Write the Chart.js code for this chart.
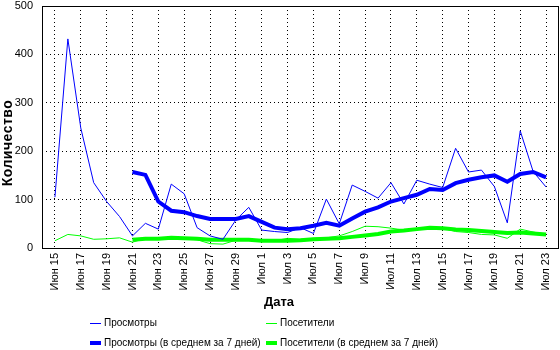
<!DOCTYPE html>
<html>
<head>
    <title>Просмотры и посетители</title>
    <script src="https://cdn.jsdelivr.net/npm/chart.js"></script>
    <style>
        body {
            margin: 0;
            background-color: #ffffff;
            font-family: "Liberation Sans", Arial, sans-serif;
        }

        .wrap {
            position: relative;
            width: 560px;
            height: 350px;
        }

        .legend {
            position: absolute;
            font-size: 10px;
            color: #000;
            white-space: nowrap;
            line-height: 12px;
            height: 12px;
        }

        .legend .mark {
            position: absolute;
            left: 0;
            width: 11px;
            background: #0000ff;
        }

        .legend .text {
            position: absolute;
            left: 14px;
            top: 0;
        }
    </style>
</head>
<body>
    <div class="wrap">
        <canvas id="chart" width="560" height="350"></canvas>
        <div class="legend" style="left:90px; top:317px;"><div class="mark" style="top:6px; height:1px;"></div><div class="text">Просмотры</div></div>
        <div class="legend" style="left:266px; top:317px;"><div class="mark" style="top:6px; height:1px; background:#00ff00;"></div><div class="text">Посетители</div></div>
        <div class="legend" style="left:90px; top:337px;"><div class="mark" style="top:4px; height:4px;"></div><div class="text">Просмотры (в среднем за 7 дней)</div></div>
        <div class="legend" style="left:266px; top:337px;"><div class="mark" style="top:4px; height:4px; background:#00ff00;"></div><div class="text">Посетители (в среднем за 7 дней)</div></div>
    </div>
    <script>
        var dates = ['Июн 15', 'Июн 16', 'Июн 17', 'Июн 18', 'Июн 19', 'Июн 20', 'Июн 21', 'Июн 22',
            'Июн 23', 'Июн 24', 'Июн 25', 'Июн 26', 'Июн 27', 'Июн 28', 'Июн 29', 'Июн 30',
            'Июл 1', 'Июл 2', 'Июл 3', 'Июл 4', 'Июл 5', 'Июл 6', 'Июл 7', 'Июл 8', 'Июл 9',
            'Июл 10', 'Июл 11', 'Июл 12', 'Июл 13', 'Июл 14', 'Июл 15', 'Июл 16', 'Июл 17',
            'Июл 18', 'Июл 19', 'Июл 20', 'Июл 21', 'Июл 22', 'Июл 23'];

        var views = [105, 432, 248, 135, 96, 65, 25, 51, 39, 132, 112, 42, 25, 18, 58, 84,
            37, 34, 32, 42, 30, 101, 50, 130, 117, 103, 135, 91, 140, 132, 125, 206, 157,
            161, 127, 52, 242, 158, 126];

        var visitors = [15, 28, 25, 18, 19, 21, 12, 20, 18, 20, 19, 17, 9, 8, 16, 18,
            15, 15, 20, 18, 20, 21, 25, 34, 45, 44, 41, 37, 39, 43, 41, 34, 32,
            28, 27, 20, 39, 33, 28];

        var viewsAvg = [null, null, null, null, null, null, 157, 151, 96, 77, 74, 66, 60, 60, 60, 66,
            54, 42, 39, 41, 46, 52, 46, 61, 75, 84, 96, 103, 110, 122, 120, 134, 141,
            146, 150, 137, 153, 157, 146];

        var visitorsAvg = [null, null, null, null, null, null, 17, 19, 19, 21, 20, 19, 17, 17, 17, 17,
            15, 15, 15, 16, 18, 19, 20, 23, 26, 29, 34, 36, 39, 42, 41, 38, 37,
            35, 33, 31, 32, 30, 28];

        var yTicks = [0, 100, 200, 300, 400, 500];

        function points(values) {
            return values.map(function(v, i) { return {x: i, y: v}; });
        }

        // frame round the plot area, plus both axis titles
        var framePlugin = {
            id: 'frame',
            afterDraw: function(chart) {
                var ctx = chart.ctx;
                var a = chart.chartArea;
                ctx.save();
                ctx.strokeStyle = '#000';
                ctx.lineWidth = 1;
                ctx.strokeRect(Math.round(a.left) + 0.5, Math.round(a.top) + 0.5,
                    Math.round(a.right - a.left) - 1, Math.round(a.bottom - a.top));
                ctx.fillStyle = '#000';
                ctx.textAlign = 'center';
                ctx.textBaseline = 'middle';
                ctx.font = 'bold 13px "Liberation Sans", Arial';
                ctx.fillText('Дата', 279, 302);
                ctx.translate(8, 143);
                ctx.rotate(-Math.PI / 2);
                ctx.font = 'bold 14px "Liberation Sans", Arial';
                ctx.letterSpacing = '0.5px';
                ctx.fillText('Количество', 0, 0);
                ctx.restore();
            }
        };

        Chart.defaults.font.family = '"Liberation Sans", Arial, sans-serif';
        Chart.defaults.font.size = 11;
        Chart.defaults.color = '#000';

        var ctx = document.getElementById('chart').getContext('2d');
        var chart = new Chart(ctx, {
            type: 'line',
            data: {
                datasets: [{
                    label: 'Посетители (в среднем за 7 дней)',
                    data: points(visitorsAvg),
                    borderColor: '#00ff00',
                    borderWidth: 4,
                    order: 2
                }, {
                    label: 'Посетители',
                    data: points(visitors),
                    borderColor: '#00ff00',
                    borderWidth: 1,
                    order: 1
                }, {
                    label: 'Просмотры (в среднем за 7 дней)',
                    data: points(viewsAvg),
                    borderColor: '#0000ff',
                    borderWidth: 4,
                    order: 0
                }, {
                    label: 'Просмотры',
                    data: points(views),
                    borderColor: '#0000ff',
                    borderWidth: 1,
                    order: -1
                }]
            },
            options: {
                responsive: false,
                animation: false,
                elements: {
                    point: { radius: 0 },
                    line: { tension: 0, borderCapStyle: 'butt' }
                },
                layout: {
                    padding: { top: 0, right: 1, left: 0, bottom: 40 }
                },
                plugins: {
                    legend: { display: false },
                    tooltip: { enabled: false }
                },
                scales: {
                    x: {
                        type: 'linear',
                        min: -1,
                        max: dates.length,
                        afterBuildTicks: function(axis) {
                            axis.ticks = dates.map(function(d, i) { return {value: i}; })
                                .filter(function(t) { return t.value % 2 === 0; });
                        },
                        afterFit: function(axis) {
                            axis.height = 62;
                            axis.paddingLeft = 0;
                            axis.paddingRight = 0;
                        },
                        ticks: {
                            autoSkip: false,
                            maxRotation: 90,
                            minRotation: 90,
                            padding: 5,
                            callback: function(value) { return dates[value]; }
                        },
                        grid: { color: '#000', drawTicks: false },
                        border: { display: false, dash: [1, 3] }
                    },
                    y: {
                        min: 0,
                        max: 500,
                        afterBuildTicks: function(axis) {
                            axis.ticks = yTicks.map(function(v) { return {value: v}; });
                        },
                        afterFit: function(axis) {
                            axis.width = 42;
                            axis.paddingTop = 6;
                            axis.paddingBottom = 0;
                        },
                        ticks: { padding: 9 },
                        grid: { color: '#000', drawTicks: false },
                        border: { display: false, dash: [1, 3] }
                    }
                }
            },
            plugins: [framePlugin]
        });
    </script>
</body>
</html>
